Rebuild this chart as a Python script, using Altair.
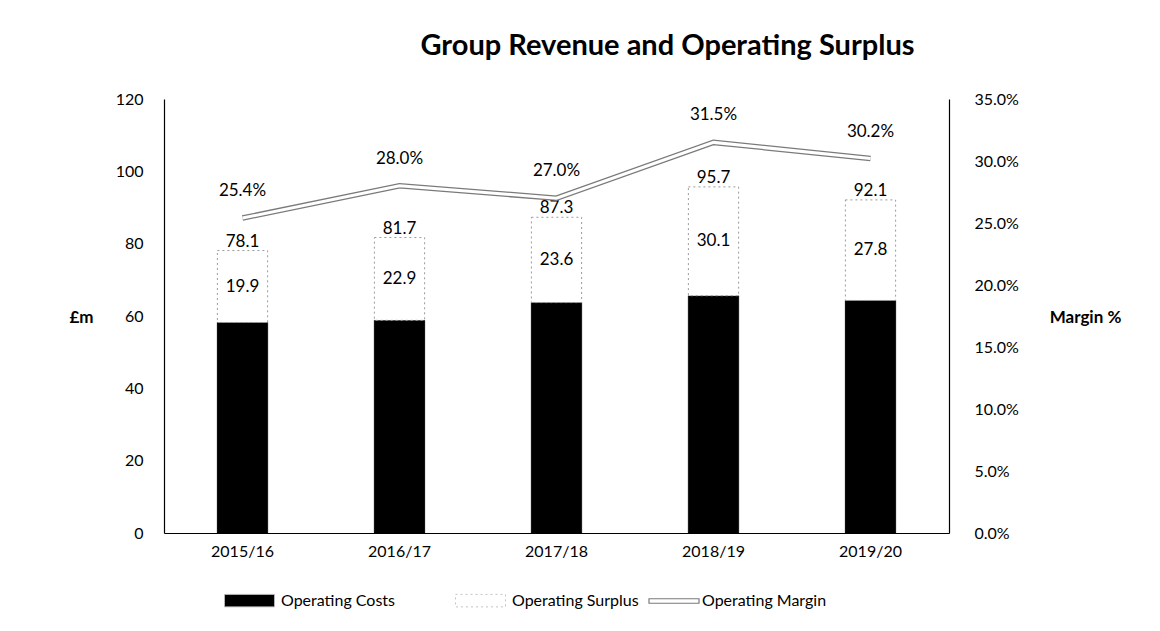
import altair as alt
import pandas as pd

years = ["2015/16", "2016/17", "2017/18", "2018/19", "2019/20"]
total = [78.1, 81.7, 87.3, 95.7, 92.1]
surplus = [19.9, 22.9, 23.6, 30.1, 27.8]
margin_pct = [25.4, 28.0, 27.0, 31.5, 30.2]

costs = [round(t - s, 1) for t, s in zip(total, surplus)]

FONT = "Lato"

rows = []
for y, c, s, t in zip(years, costs, surplus, total):
    rows.append({"year": y, "series": "Operating Costs", "start": 0.0, "end": c})
    rows.append({"year": y, "series": "Operating Surplus", "start": c, "end": t})
bars_df = pd.DataFrame(rows)

lab_df = pd.DataFrame({
    "year": years,
    "total": total,
    "surplus": surplus,
    "mid": [c + s / 2 for c, s in zip(costs, surplus)],
    "margin": [m / 100 for m in margin_pct],
    "lname": ["Operating Margin"] * len(years),
})

x_enc = alt.X("year:N", sort=years, title=None,
              scale=alt.Scale(paddingInner=0.68, paddingOuter=0.34),
              axis=alt.Axis(labelAngle=0, ticks=False, domain=True, domainColor="black",
                            domainWidth=1.2, labelPadding=10, labelFontSize=16,
                            labelFont=FONT, labelColor="black", grid=False))

left_axis = alt.Axis(values=[0, 20, 40, 60, 80, 100, 120], ticks=False, grid=False,
                     domain=True, domainColor="black", domainWidth=1.2,
                     labelPadding=21, labelFontSize=16, labelFont=FONT, labelColor="black",
                     title="£m", titleAngle=0, titleX=-83, titleY=218, titleAlign="center",
                     titleBaseline="middle", titleFont=FONT, titleFontSize=17,
                     titleFontWeight="bold", titleColor="black")
left_scale = alt.Scale(domain=[0, 120], nice=False)

right_axis = alt.Axis(orient="right", values=[0, 0.05, 0.1, 0.15, 0.2, 0.25, 0.3, 0.35],
                      format=".1%", ticks=False, grid=False, domain=True,
                      domainColor="black", domainWidth=1.2, labelPadding=25,
                      labelFontSize=16, labelFont=FONT, labelColor="black",
                      title="Margin %", titleAngle=0, titleX=136, titleY=218,
                      titleAlign="center", titleBaseline="middle", titleFont=FONT,
                      titleFontSize=17, titleFontWeight="bold", titleColor="black")
right_scale = alt.Scale(domain=[0, 0.35], nice=False)

bar_legend = alt.Legend(title=None, orient="none", legendX=60, legendY=476,
                        direction="horizontal", columns=2, columnPadding=58,
                        symbolType="M-1,-0.25L1,-0.25L1,0.25L-1,0.25Z", symbolSize=2500,
                        symbolStrokeColor="#c4c4c4", symbolDash=[2, 3],
                        symbolStrokeWidth=1, labelFontSize=16, labelFont=FONT,
                        labelColor="black", labelOffset=6)

series_dom = ["Operating Costs", "Operating Surplus"]
bars = alt.Chart(bars_df).mark_bar(strokeWidth=1).encode(
    x=x_enc,
    y=alt.Y("start:Q", scale=left_scale, axis=left_axis),
    y2="end:Q",
    fill=alt.Fill("series:N", scale=alt.Scale(domain=series_dom, range=["black", "white"]),
                  legend=bar_legend),
    stroke=alt.Stroke("series:N", scale=alt.Scale(domain=series_dom, range=["black", "#9a9a9a"]),
                      legend=None),
    strokeDash=alt.StrokeDash("series:N", scale=alt.Scale(domain=series_dom, range=[[1, 0], [2, 3]]),
                              legend=None),
)

total_text = alt.Chart(lab_df).mark_text(fontSize=17, font=FONT, color="black", dy=-9).encode(
    x=alt.X("year:N", sort=years),
    y=alt.Y("total:Q", scale=left_scale, axis=left_axis),
    text=alt.Text("total:Q", format=".1f"),
)
surplus_text = alt.Chart(lab_df).mark_text(fontSize=17, font=FONT, color="black").encode(
    x=alt.X("year:N", sort=years),
    y=alt.Y("mid:Q", scale=left_scale, axis=left_axis),
    text=alt.Text("surplus:Q", format=".1f"),
)

left = alt.layer(bars, total_text, surplus_text)

line_legend = alt.Legend(title=None, orient="none", legendX=484, legendY=476,
                         symbolType="M-1,-0.09L1,-0.09L1,0.09L-1,0.09Z", symbolSize=2500,
                         symbolFillColor="white", symbolStrokeWidth=1.2,
                         labelFontSize=16, labelFont=FONT, labelColor="black", labelOffset=2)

line_outer = alt.Chart(lab_df).mark_line(strokeWidth=5.5).encode(
    x=alt.X("year:N", sort=years),
    y=alt.Y("margin:Q", scale=right_scale, axis=right_axis),
    stroke=alt.Stroke("lname:N", scale=alt.Scale(domain=["Operating Margin"], range=["#7a7a7a"]),
                      legend=line_legend),
)
line_inner = alt.Chart(lab_df).mark_line(strokeWidth=3, color="white").encode(
    x=alt.X("year:N", sort=years),
    y=alt.Y("margin:Q", scale=right_scale, axis=right_axis),
)
margin_text = alt.Chart(lab_df).mark_text(fontSize=17, font=FONT, color="black", dy=-27).encode(
    x=alt.X("year:N", sort=years),
    y=alt.Y("margin:Q", scale=right_scale, axis=right_axis),
    text=alt.Text("margin:Q", format=".1%"),
)

right = alt.layer(line_outer, line_inner, margin_text)

chart = alt.layer(left, right).resolve_scale(
    y="independent", stroke="independent"
).properties(
    width=785, height=434,
    background="white",
    padding={"left": 156, "top": 91, "right": 203, "bottom": 90},
    autosize=alt.AutoSizeParams(type="none"),
    title=alt.TitleParams("Group Revenue and Operating Surplus", fontSize=29, font=FONT,
                          fontWeight="bold", color="black", anchor="middle", frame="group",
                          dx=111, offset=7, baseline="alphabetic"),
).configure_view(stroke=None, strokeWidth=0)

chart.save("out.html", embed_options={"renderer": "svg", "actions": False})
